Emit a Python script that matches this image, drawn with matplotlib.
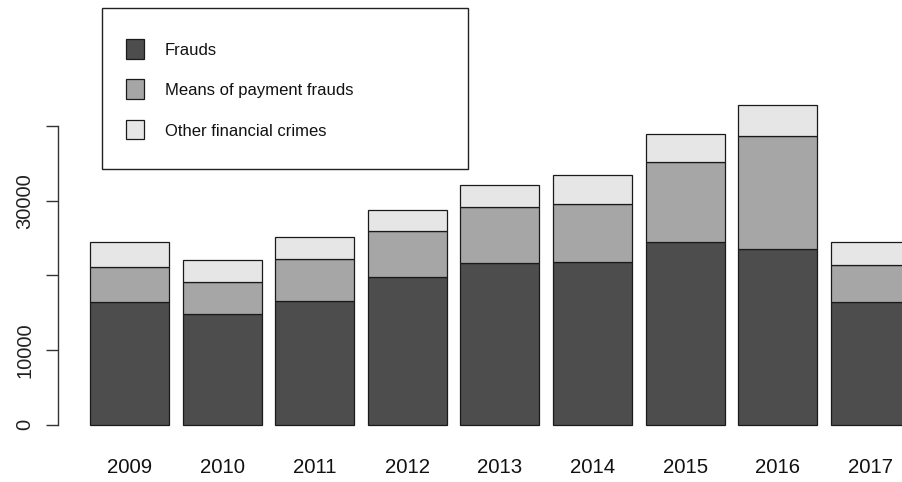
import matplotlib.pyplot as plt
import numpy as np
from matplotlib.patches import Rectangle

plt.rcParams["font.family"] = ["Liberation Sans", "DejaVu Sans"]

# --- Data (number of offences per year) ---
years = ["2009", "2010", "2011", "2012", "2013", "2014", "2015", "2016", "2017"]
frauds = [16430, 14860, 16600, 19740, 21650, 21830, 24460, 23570, 16430]
payment_frauds = [4690, 4210, 5590, 6160, 7500, 7720, 10680, 15050, 4910]
other_crimes = [3310, 2940, 2980, 2890, 2990, 3850, 3830, 4190, 3120]

series_labels = ["Frauds", "Means of payment frauds", "Other financial crimes"]
series_colors = ["#4d4d4d", "#a6a6a6", "#e6e6e6"]

W, H = 903, 482
fig = plt.figure(figsize=(W / 100, H / 100), dpi=100)
ax = fig.add_axes([0, 0, 1, 1])

# pixel geometry of the plotting region
px_step = 92.6
px_x0 = 129.5
px_zero = 424.7
px_per_unit = 74.675 / 10000

x = np.arange(len(years))
width = 79 / px_step
bottom = np.zeros(len(years))
for vals, col in zip([frauds, payment_frauds, other_crimes], series_colors):
    ax.bar(x, vals, width=width, bottom=bottom, color=col,
           edgecolor="#1a1a1a", linewidth=0.9)
    bottom += np.array(vals)

ax.set_xlim(-px_x0 / px_step, (W - px_x0) / px_step)
ax.set_ylim(-(H - px_zero) / px_per_unit, px_zero / px_per_unit)
ax.set_facecolor("none")

for side in ["top", "right", "bottom"]:
    ax.spines[side].set_visible(False)
ax.spines["bottom"].set_position(("data", 0))

# y axis in R style: detached line, ticks 0..40000
ax.spines["left"].set_position(("data", (58.3 - px_x0) / px_step))
ax.spines["left"].set_bounds(0, 40000)
ax.spines["left"].set_color("#333333")
ax.spines["left"].set_linewidth(1.0)
ax.set_yticks([0, 10000, 20000, 30000, 40000])
ax.set_yticklabels(["0", "10000", "", "30000", ""], rotation=90,
                   va="center", fontsize=14.5, color="#222222")
ax.tick_params(axis="y", length=9, width=1.0, color="#333333", pad=8)

ax.set_xticks(x)
ax.set_xticklabels(years, fontsize=14.7, color="#111111")
ax.tick_params(axis="x", length=0, pad=24)

# legend box drawn in pixel coordinates
lg = fig.add_axes([0, 0, 1, 1])
lg.set_xlim(0, W)
lg.set_ylim(H, 0)
lg.axis("off")
lg.add_patch(Rectangle((101.7, 8.3), 366.6, 161, fill=False,
                       edgecolor="#222222", linewidth=1.0))
row_y = [49, 89, 129.5]
for lab, col, yc in zip(series_labels, series_colors, row_y):
    lg.add_patch(Rectangle((125.7, yc - 9.8), 18.6, 19.6, facecolor=col,
                           edgecolor="#1a1a1a", linewidth=0.9))
    lg.text(165, yc + 1.5, lab, fontsize=12, va="center", ha="left",
            color="#111111")

fig.savefig("out.png", dpi=100)
